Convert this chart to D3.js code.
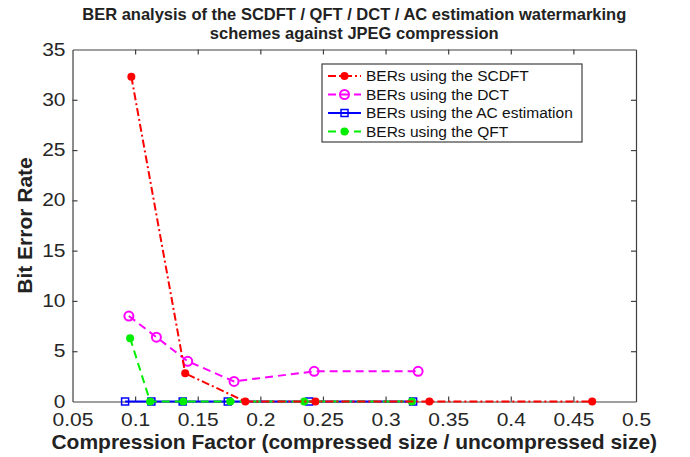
<!DOCTYPE html>
<html>
<head>
<meta charset="utf-8">
<script src="https://cdn.jsdelivr.net/npm/d3@7"></script>
<style>
  body { margin: 0; background: #fff; }
  svg { font-family: "Liberation Sans", Arial, Helvetica, sans-serif; }
</style>
</head>
<body>
<div class="chart"></div>
<script>
"use strict";
// values
const scdftX = [0.097, 0.140, 0.188, 0.244, 0.335, 0.465];
const scdftY = [32.3, 2.8, 0, 0, 0, 0];
const dctX = [0.095, 0.117, 0.142, 0.179, 0.243, 0.326];
const dctY = [8.5, 6.4, 4.0, 2.0, 3.0, 3.0];
const acX = [0.092, 0.113, 0.138, 0.174, 0.239, 0.322];
const acY = [0, 0, 0, 0, 0, 0];
const qftX = [0.096, 0.112, 0.1385, 0.176, 0.235, 0.321];
const qftY = [6.3, 0, 0, 0, 0, 0];
const xTicks = [0.05, 0.1, 0.15, 0.2, 0.25, 0.3, 0.35, 0.4, 0.45, 0.5];
const yTicks = [0, 5, 10, 15, 20, 25, 30, 35];
const seriesNames = ["BERs using the SCDFT", "BERs using the DCT", "BERs using the AC estimation", "BERs using the QFT"];

const W = 690, H = 457;
const margin = {top: 49.5, right: 54, bottom: 55.5, left: 72.5};
const width = W - margin.left - margin.right;
const height = H - margin.top - margin.bottom;
const axisColor = "#404040";

const svg = d3.select(".chart").append("svg")
    .attr("width", W)
    .attr("height", H);
const g = svg.append("g")
    .attr("transform", "translate(" + margin.left + "," + margin.top + ")");

let x = d3.scaleLinear().domain([0.05, 0.5]).range([0, width]);
let y = d3.scaleLinear().domain([0, 35]).range([height, 0]);

// axes, ticks pointing inward like MATLAB
const xAxis = d3.axisBottom(x).tickValues(xTicks).tickSizeInner(-5).tickSizeOuter(0)
    .tickPadding(12.5).tickFormat(d3.format("~g"));
const yAxis = d3.axisLeft(y).tickValues(yTicks).tickSizeInner(-5).tickSizeOuter(0)
    .tickPadding(7).tickFormat(d3.format("d"));

const gx = g.append("g").attr("transform", "translate(0," + height + ")").call(xAxis);
const gy = g.append("g").call(yAxis);
const gxt = g.append("g").call(d3.axisTop(x).tickValues(xTicks).tickSizeInner(-5).tickSizeOuter(0).tickFormat(""));
const gyr = g.append("g").attr("transform", "translate(" + width + ",0)")
    .call(d3.axisRight(y).tickValues(yTicks).tickSizeInner(-5).tickSizeOuter(0).tickFormat(""));

[gx, gy, gxt, gyr].forEach(a => {
    a.selectAll("path, line").attr("stroke", axisColor).attr("stroke-width", 1.2);
    a.selectAll("text").attr("fill", "#262626").style("font-size", "17.5px");
});
// tick labels in the figure are a little wider than the font
[gx, gy].forEach(a => {
    a.selectAll(".tick text").each(function () {
        let len = this.getComputedTextLength();
        d3.select(this).attr("textLength", len * 1.2).attr("lengthAdjust", "spacingAndGlyphs");
    });
});
gx.selectAll(".tick line").filter(d => d === 0.05 || d === 0.5).remove();
gxt.selectAll(".tick line").filter(d => d === 0.05 || d === 0.5).remove();
gy.selectAll(".tick line").filter(d => d === 0 || d === 35).remove();
gyr.selectAll(".tick line").filter(d => d === 0 || d === 35).remove();

// series
const series = [
    {xs: acX, ys: acY, color: "#0000ff", dash: null, marker: "square"},
    {xs: qftX, ys: qftY, color: "#00ee00", dash: "8,5", marker: "dot"},
    {xs: dctX, ys: dctY, color: "#ff00ff", dash: "8,5", marker: "circle"},
    {xs: scdftX, ys: scdftY, color: "#ff0000", dash: "8,3,2,3", marker: "dot"}
];

let line = d3.line().x(d => x(d[0])).y(d => y(d[1]));

function drawMarker(sel, type, color) {
    if (type === "square") {
        sel.append("rect")
            .attr("x", -3.5).attr("y", -3.5).attr("width", 7).attr("height", 7)
            .attr("fill", "none").attr("stroke", color).attr("stroke-width", 1.5);
    } else if (type === "circle") {
        sel.append("circle").attr("r", 4.5)
            .attr("fill", "none").attr("stroke", color).attr("stroke-width", 2);
    } else {
        sel.append("circle").attr("r", 4).attr("fill", color);
    }
}

series.forEach(s => {
    let pts = s.xs.map((v, i) => [v, s.ys[i]]);
    g.append("path")
        .attr("d", line(pts))
        .attr("fill", "none")
        .attr("stroke", s.color)
        .attr("stroke-width", 2)
        .attr("stroke-dasharray", s.dash);
    g.selectAll(null).data(pts).enter().append("g")
        .attr("transform", d => "translate(" + x(d[0]) + "," + y(d[1]) + ")")
        .each(function () { drawMarker(d3.select(this), s.marker, s.color); });
});

// legend
const legendOrder = [3, 2, 0, 1];
const lg = svg.append("g").attr("transform", "translate(322,64)");
lg.append("rect").attr("width", 260).attr("height", 78)
    .attr("fill", "#fff").attr("stroke", axisColor).attr("stroke-width", 1.2);
legendOrder.forEach((si, i) => {
    let s = series[si];
    let row = lg.append("g").attr("transform", "translate(0," + (12 + i * 18.5) + ")");
    row.append("line").attr("x1", 6).attr("x2", 39)
        .attr("stroke", s.color).attr("stroke-width", 2)
        .attr("stroke-dasharray", s.dash);
    drawMarker(row.append("g").attr("transform", "translate(22.5,0)"), s.marker, s.color);
    row.append("text").attr("x", 44).attr("dy", "0.35em")
        .style("font-size", "15.5px").attr("fill", "#111")
        .text(seriesNames[i]);
});

// titles
const cx = margin.left + width / 2;
svg.append("text").attr("x", cx).attr("y", 20)
    .attr("text-anchor", "middle").style("font-size", "16.5px").style("font-weight", "bold")
    .attr("fill", "#222")
    .text("BER analysis of the SCDFT / QFT / DCT / AC estimation watermarking");
svg.append("text").attr("x", cx).attr("y", 39)
    .attr("text-anchor", "middle").style("font-size", "16.5px").style("font-weight", "bold")
    .attr("fill", "#222")
    .text("schemes against JPEG compression");
svg.append("text").attr("x", cx).attr("y", 449)
    .attr("text-anchor", "middle").style("font-size", "21px").style("font-weight", "bold")
    .attr("fill", "#222")
    .text("Compression Factor (compressed size / uncompressed size)");
svg.append("text").attr("transform", "translate(32," + (margin.top + height / 2) + ") rotate(-90)")
    .attr("text-anchor", "middle").style("font-size", "21px").style("font-weight", "bold")
    .attr("fill", "#222")
    .text("Bit Error Rate");
</script>
</body>
</html>
